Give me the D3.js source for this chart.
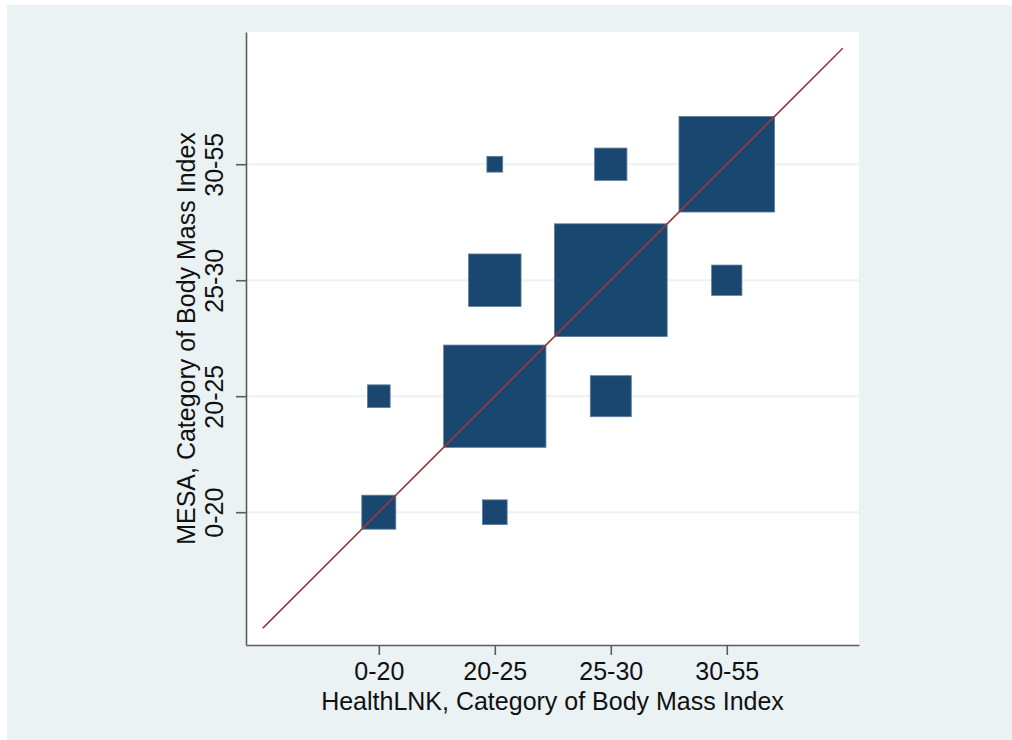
<!DOCTYPE html>
<html>
<head>
<meta charset="utf-8">
<script src="https://cdn.jsdelivr.net/npm/d3@7"></script>
<style>
  html, body { margin: 0; padding: 0; background: #fff; }
  svg { display: block; font-family: "Liberation Sans", Arial, Helvetica, sans-serif; }
</style>
</head>
<body>
<div id="chart"></div>
<script>
// BMI categories (same for both sources)
const categories = ['0-20', '20-25', '25-30', '30-55'];

// one entry per cell: HealthLNK category, MESA category, count (marker weight)
const healthlnkIdx = [1, 1, 2, 2, 2, 2, 3, 3, 3, 4, 4];
const mesaIdx      = [1, 2, 1, 2, 3, 4, 2, 3, 4, 3, 4];
const counts       = [1156, 515, 610, 10465, 2756, 250, 1681, 12724, 1043, 918, 9139];

// 45 degree reference line
const refLine = [0, 5];

const width = 1012, height = 740;
const bgColor = '#eaf2f3',
      markerColor = '#1a476f',
      lineColor = '#9a3a3e',
      axisColor = '#5c5c5c';

const plotL = 246, plotR = 859, plotT = 32, plotB = 645;

const svg = d3.select('#chart').append('svg')
    .attr('width', width)
    .attr('height', height);

// graph region
svg.append('rect')
    .attr('x', 7).attr('y', 5)
    .attr('width', width - 7).attr('height', height - 5)
    .attr('fill', bgColor);

// plot region
svg.append('rect')
    .attr('x', plotL).attr('y', plotT)
    .attr('width', plotR - plotL).attr('height', plotB - plotT)
    .attr('fill', '#fff');

const x = d3.scaleLinear().domain([-0.145, 5.14]).range([plotL, plotR]);
const y = d3.scaleLinear().domain([-0.145, 5.14]).range([plotB, plotT]);
const side = d3.scaleSqrt().domain([0, d3.max(counts)]).range([0, 112.8]);

const tickVals = categories.map((c, i) => i + 1);

// gridlines
svg.append('g').selectAll('line')
    .data(tickVals)
    .enter().append('line')
    .attr('x1', plotL).attr('x2', plotR)
    .attr('y1', d => y(d)).attr('y2', d => y(d))
    .attr('stroke', bgColor)
    .attr('stroke-width', 2);

// weighted square markers
const cells = counts.map((n, i) => ({hx: healthlnkIdx[i], my: mesaIdx[i], n: n}));
svg.append('g').selectAll('rect')
    .data(cells)
    .enter().append('rect')
    .attr('x', d => x(d.hx) - side(d.n) / 2)
    .attr('y', d => y(d.my) - side(d.n) / 2)
    .attr('width', d => side(d.n))
    .attr('height', d => side(d.n))
    .attr('fill', markerColor)
    .attr('stroke', '#5d7f9c')
    .attr('stroke-width', 0.8);

// line of equality
svg.append('line')
    .attr('x1', x(refLine[0])).attr('y1', y(refLine[0]))
    .attr('x2', x(refLine[1])).attr('y2', y(refLine[1]))
    .attr('stroke', lineColor)
    .attr('stroke-width', 1.6);

// axes
const fmt = d => categories[d - 1];

const xAxis = svg.append('g')
    .attr('transform', 'translate(0,' + plotB + ')')
    .call(d3.axisBottom(x).tickValues(tickVals).tickFormat(fmt).tickSize(10).tickPadding(0).tickSizeOuter(0));
xAxis.select('.domain').attr('stroke', axisColor).attr('stroke-width', 1.6);
xAxis.selectAll('.tick line').attr('stroke', axisColor).attr('stroke-width', 1.6);
xAxis.selectAll('.tick text')
    .attr('y', 35).attr('dy', null)
    .attr('fill', '#111')
    .style('font-size', '25px');

const yAxis = svg.append('g')
    .attr('transform', 'translate(' + plotL + ',0)')
    .call(d3.axisLeft(y).tickValues(tickVals).tickFormat(fmt).tickSize(10).tickSizeOuter(0));
yAxis.select('.domain').attr('stroke', axisColor).attr('stroke-width', 1.6);
yAxis.selectAll('.tick line').attr('stroke', axisColor).attr('stroke-width', 1.6);
yAxis.selectAll('.tick text')
    .attr('x', null).attr('dy', null)
    .attr('transform', 'translate(-23,0) rotate(-90)')
    .attr('text-anchor', 'middle')
    .attr('fill', '#111')
    .style('font-size', '25px');

// axis titles
svg.append('text')
    .attr('x', (plotL + plotR) / 2)
    .attr('y', 710)
    .attr('text-anchor', 'middle')
    .attr('fill', '#111')
    .style('font-size', '25px')
    .text('HealthLNK, Category of Body Mass Index');

svg.append('text')
    .attr('transform', 'translate(195,' + (plotT + plotB) / 2 + ') rotate(-90)')
    .attr('text-anchor', 'middle')
    .attr('fill', '#111')
    .style('font-size', '25px')
    .text('MESA, Category of Body Mass Index');
</script>
</body>
</html>
